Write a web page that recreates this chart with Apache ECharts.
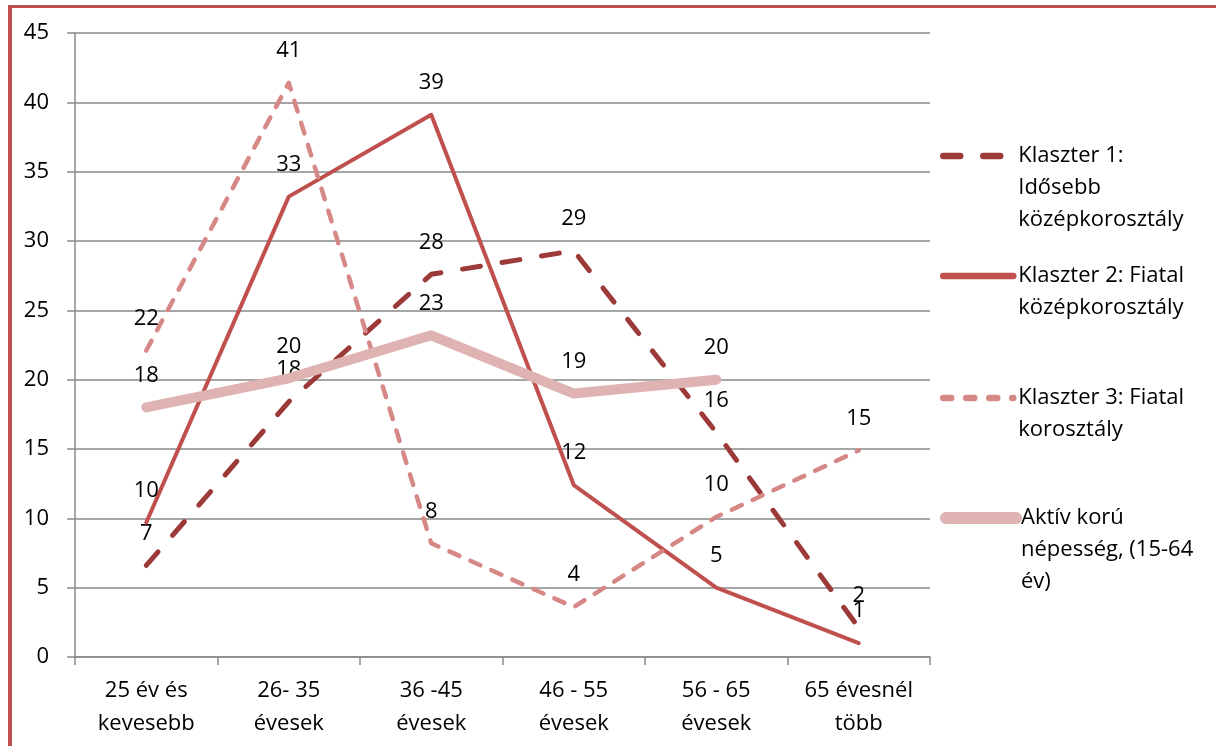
<!DOCTYPE html>
<html>
<head>
<meta charset="utf-8">
<script src="https://cdn.jsdelivr.net/npm/echarts@6/dist/echarts.min.js"></script>
<style>
  html, body { margin: 0; padding: 0; background: #ffffff; }
  #chart { position: absolute; left: 0; top: 0; width: 1216px; height: 746px; }
  .frame-top { position: absolute; left: 8px; top: 5px; width: 1208px; height: 3px; background: #c0504d; pointer-events: none; }
  .frame-left { position: absolute; left: 8px; top: 5px; width: 4px; height: 741px; background: #c0504d; pointer-events: none; }
</style>
</head>
<body>
<div id="chart"></div>
<div class="frame-top"></div>
<div class="frame-left"></div>
<script>
// Age groups on the category axis
const categories = [
  '25 év és\nkevesebb',
  '26- 35\névesek',
  '36 -45\névesek',
  '46 - 55\névesek',
  '56 - 65\névesek',
  '65 évesnél\ntöbb'
];

// Share of each cluster by age group (%)
const klaszter1 = [6.6, 18.4, 27.6, 29.3, 16.2, 2.1];
const klaszter2 = [9.7, 33.2, 39.1, 12.4, 5.0, 1.0];
const klaszter3 = [22.1, 41.4, 8.2, 3.6, 10.1, 14.9];
const aktivKoru = [18.0, 20.1, 23.2, 19.0, 20.0];

const seriesNames = [
  'Klaszter 1:\nIdősebb\nközépkorosztály',
  'Klaszter 2: Fiatal\nközépkorosztály',
  'Klaszter 3: Fiatal\nkorosztály',
  'Aktív korú\nnépesség, (15-64\név)'
];

const yTicks = { min: 0, max: 45, interval: 5 };

const FONT = 'Open Sans';
const FS = 22;
const LH = 32;

const colors = ['#9b3a38', '#c0504d', '#d68886', '#deb3b2'];
const lineWidths = [5, 4, 4.5, 10];
const legendWidths = [6.5, 6.5, 6.5, 12];
const dashes = [[18, 22], 'solid', [11, 12], 'solid'];
const legendDashes = [[17, 23], 'solid', [8, 15], 'solid'];

const labelCfg = {
  show: true,
  position: 'top',
  distance: 20,
  color: '#000',
  fontFamily: FONT,
  fontSize: FS,
  formatter: p => Math.round(p.value)
};

// Legend entries: the icon sits beside the first text line, so blank
// lines are added above the text to keep the block centred on the icon.
function makeLegend(idx, firstLineY) {
  const name = seriesNames[idx];
  const lines = name.split('\n').length;
  const h = (2 * lines - 1) * LH;
  return {
    left: 940,
    top: firstLineY - h / 2,
    padding: 0,
    orient: 'vertical',
    itemWidth: 70,
    itemHeight: 14,
    itemGap: 0,
    selectedMode: false,
    itemStyle: { opacity: 0 },
    data: [{
      name: name,
      lineStyle: { width: legendWidths[idx], type: legendDashes[idx], cap: 'round' }
    }],
    formatter: n => '\n'.repeat(lines - 1) + n,
    textStyle: {
      fontFamily: FONT,
      fontSize: FS,
      color: '#000',
      lineHeight: LH
    }
  };
}

function makeSeries(idx, data, z) {
  return {
    name: seriesNames[idx],
    type: 'line',
    data: data,
    symbol: 'circle',
    symbolSize: 2,
    showSymbol: true,
    color: colors[idx],
    itemStyle: { color: 'rgba(0,0,0,0)' },
    lineStyle: { color: colors[idx], width: lineWidths[idx], type: dashes[idx], cap: 'round', join: 'round' },
    label: labelCfg,
    z: z
  };
}

const chart = echarts.init(document.getElementById('chart'), null, { renderer: 'canvas' });

chart.setOption({
  animation: false,
  backgroundColor: '#ffffff',
  grid: { left: 75, right: 286, top: 33, bottom: 89 },
  legend: [
    makeLegend(0, 156),
    makeLegend(1, 276),
    makeLegend(2, 398),
    makeLegend(3, 518)
  ],
  xAxis: {
    type: 'category',
    data: categories,
    boundaryGap: true,
    axisLine: { lineStyle: { color: '#898989', width: 1.5 } },
    axisTick: { show: true, length: 8, alignWithLabel: false, lineStyle: { color: '#898989', width: 1.5 } },
    axisLabel: {
      color: '#000', fontFamily: FONT, fontSize: FS, lineHeight: 33,
      margin: 17, interval: 0, align: 'center'
    },
    splitLine: { show: false }
  },
  yAxis: {
    type: 'value',
    min: yTicks.min,
    max: yTicks.max,
    interval: yTicks.interval,
    axisLine: { show: true, lineStyle: { color: '#898989', width: 1.5 } },
    axisTick: { show: true, length: 8, lineStyle: { color: '#898989', width: 1.5 } },
    axisLabel: { color: '#000', fontFamily: FONT, fontSize: FS, margin: 26 },
    splitLine: { show: true, lineStyle: { color: '#898989', width: 1.5 } }
  },
  series: [
    makeSeries(0, klaszter1, 2),
    makeSeries(1, klaszter2, 3),
    makeSeries(2, klaszter3, 4),
    makeSeries(3, aktivKoru, 5)
  ]
});
</script>
</body>
</html>
